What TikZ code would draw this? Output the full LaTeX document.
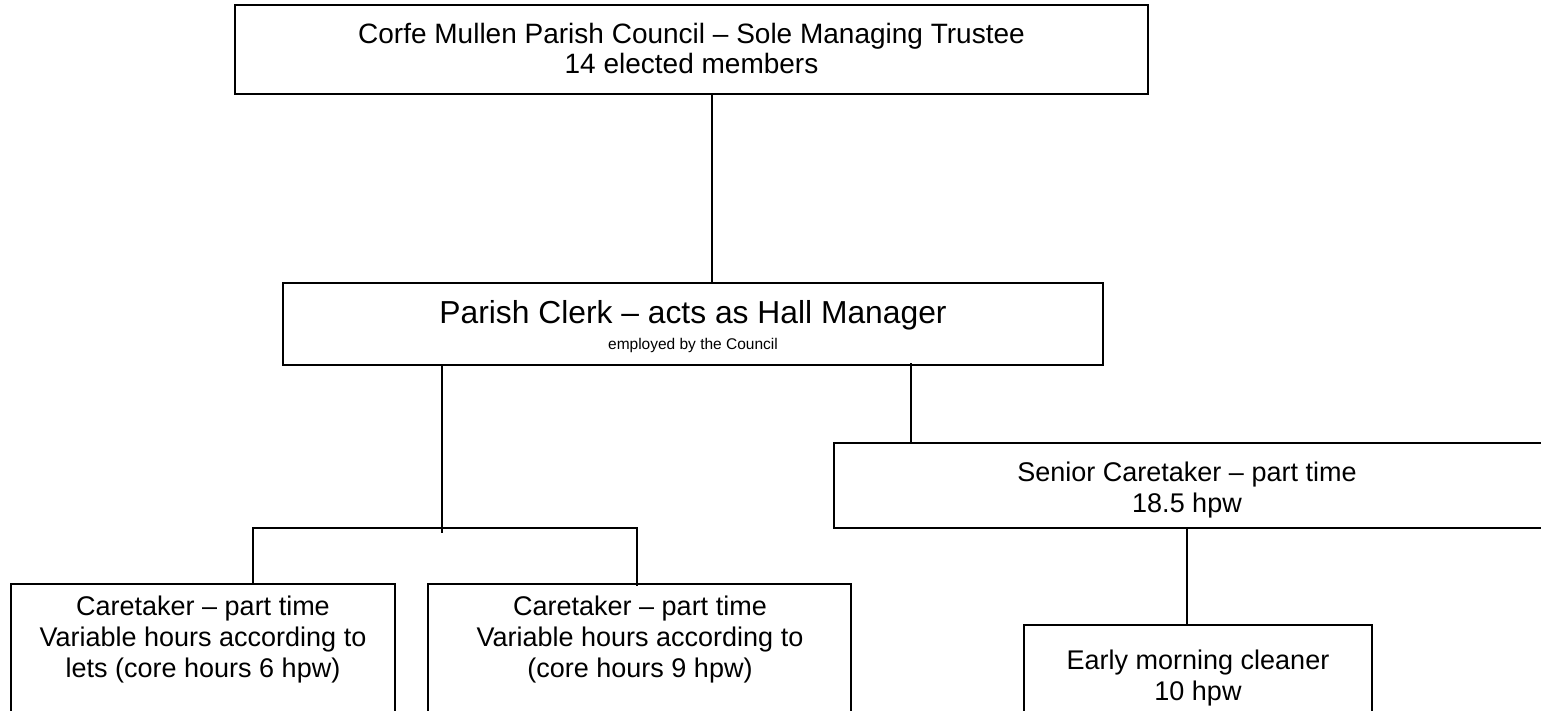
\documentclass[tikz,border=0pt]{standalone}
\usepackage{fontspec}
\setmainfont{Liberation Sans}
\usetikzlibrary{fit,calc}
\begin{document}
\begin{tikzpicture}[x=0.5pt,y=-0.5pt,
  box/.style={draw, line width=1pt, inner sep=0pt},
  wire/.style={line width=0.65pt},
  txt/.style={align=center, inner sep=0pt},
  normal/.style={font=\fontsize{13.5}{15.5}\selectfont},
  topfont/.style={font=\fontsize{14}{15}\selectfont},
  headfont/.style={font=\fontsize{15.9}{18}\selectfont},
  smallfont/.style={font=\fontsize{7.75}{9}\selectfont}]
\useasboundingbox (0,0) rectangle (1541,711);
\clip (0,0) rectangle (1541,711);
% boxes
\node[box, fit={(235,5)(1148,94)}] (top) {};
\node[box, fit={(283,283)(1103,365)}] (mid) {};
\node[box, fit={(834,443)(1550,528)}] (senior) {};
\node[box, fit={(11,584)(395,730)}] (c1) {};
\node[box, fit={(428,584)(851,730)}] (c2) {};
\node[box, fit={(1024,625)(1372,730)}] (early) {};
% texts
\node[txt, topfont] (toptext) at (691.5,48) {Corfe Mullen Parish Council – Sole Managing Trustee\\14 elected members};
\node[txt, headfont, anchor=base] (midtext) at (693,323) {Parish Clerk – acts as Hall Manager};
\node[txt, smallfont, anchor=base] (midsub) at (693,349) {employed by the Council};
\node[txt, normal] (seniortext) at (1187,490) {Senior Caretaker – part time\\18.5 hpw};
\node[txt, normal] (c1text) at (203,640) {Caretaker – part time\\Variable hours according to\\lets (core hours 6 hpw)};
\node[txt, normal] (c2text) at (640,640) {Caretaker – part time\\Variable hours according to\\(core hours 9 hpw)};
\node[txt, normal] (earlytext) at (1198,678) {Early morning cleaner\\10 hpw};
% connectors
\coordinate (xa) at (712,0);
\coordinate (j1) at (442,528);
\coordinate (j1end) at (442,533);
\coordinate (hl) at (253,528);
\coordinate (hr) at (637,528);
\coordinate (xc) at (911,0);
\coordinate (xd) at (1187,0);
\draw[wire] (top.south -| xa) -- (mid.north -| xa);
\draw[wire] (mid.south -| j1) -- (j1end);
\draw[wire] (c1.north -| hl) -- (hl) -- (hr) -- ($(c2.north -| hr)+(0,3)$);
\draw[wire] ($(mid.south -| xc)+(0,-3)$) -- (senior.north -| xc);
\draw[wire] (senior.south -| xd) -- (early.north -| xd);
\end{tikzpicture}
\end{document}
